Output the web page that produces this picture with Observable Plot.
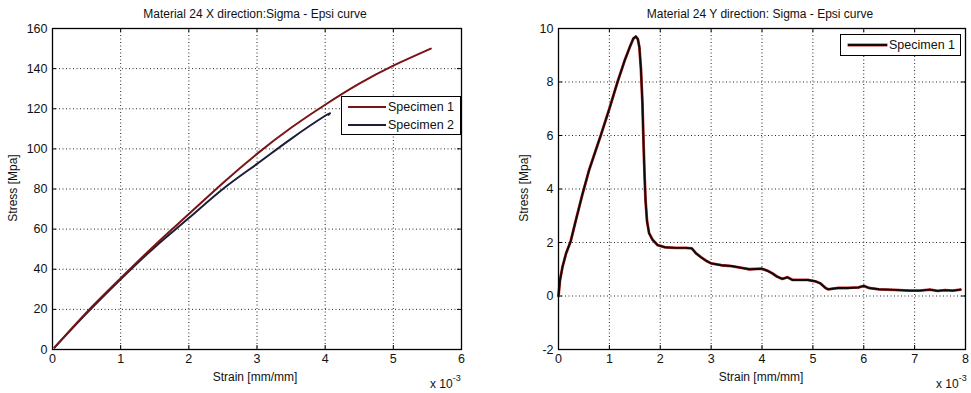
<!DOCTYPE html>
<html><head><meta charset="utf-8">
<script src="https://cdn.jsdelivr.net/npm/d3@7"></script>
<script src="https://cdn.jsdelivr.net/npm/@observablehq/plot@0.6"></script>
<style>
body{margin:0;background:#fff;}
#wrap{position:relative;width:971px;height:393px;overflow:hidden;font-family:"Liberation Sans",Arial,sans-serif;color:#111;background:#fff;}
.panel{position:absolute;top:0;}
.t{position:absolute;white-space:nowrap;font-size:12px;transform:translate(-50%,-50%);line-height:1;}
.yl{position:absolute;white-space:nowrap;font-size:12px;transform:translate(-50%,-50%) rotate(-90deg);line-height:1;}
.mult{position:absolute;white-space:nowrap;font-size:12px;line-height:1;}
.mult sup{font-size:9px;position:relative;top:-2px;}
.legend{position:absolute;background:#fff;border:1.5px solid #000;box-sizing:border-box;}
.legend .row{position:absolute;left:0;right:0;height:16px;}
.legend .sw{position:absolute;height:2px;}
.legend .lab{position:absolute;font-size:12.5px;line-height:16px;top:0;white-space:nowrap;}
</style>
</head><body>
<div id="wrap"></div>
<script>
// ---- Data (strain in units of 10^-3 mm/mm, stress in MPa) ----
const xStrain1 = [0.03, 0.5, 1.0, 1.5, 2.0, 2.5, 3.0, 3.5, 4.0, 4.5, 5.0, 5.55];
const xStress1 = [1.0, 18.5, 35.5, 52, 67.5, 83, 97.5, 110.5, 122, 132.5, 141.5, 150];
const xStrain2 = [0.03, 0.5, 1.0, 1.5, 2.0, 2.5, 3.0, 3.5, 4.0, 4.05];
const xStress2 = [1.0, 18, 35, 51, 65.5, 80, 92.5, 105, 116.5, 117];

const yStrain = [0, 0.03, 0.08, 0.15, 0.24, 0.35, 0.47, 0.6, 0.83, 1.0, 1.16, 1.3, 1.4, 1.47, 1.52, 1.56, 1.59, 1.62, 1.65, 1.67, 1.69, 1.71, 1.74, 1.78, 1.85, 1.95, 2.1, 2.3, 2.5, 2.62, 2.7, 2.8, 2.9, 3.0, 3.2, 3.4, 3.6, 3.75, 4.0, 4.1, 4.2, 4.3, 4.4, 4.5, 4.6, 4.75, 4.9, 5.05, 5.15, 5.25, 5.3, 5.5, 5.7, 5.9, 6.0, 6.1, 6.3, 6.6, 6.9, 7.1, 7.3, 7.45, 7.6, 7.75, 7.9];
const yStress = [0, 0.6, 1.1, 1.6, 2.05, 2.9, 3.8, 4.7, 6.0, 7.0, 8.0, 8.8, 9.3, 9.62, 9.7, 9.6, 9.3, 8.5, 7.2, 5.8, 4.6, 3.6, 2.8, 2.35, 2.1, 1.9, 1.82, 1.8, 1.8, 1.78, 1.6, 1.45, 1.32, 1.22, 1.15, 1.12, 1.05, 1.0, 1.02, 0.95, 0.85, 0.72, 0.64, 0.7, 0.6, 0.6, 0.6, 0.55, 0.47, 0.3, 0.25, 0.3, 0.3, 0.32, 0.38, 0.3, 0.25, 0.23, 0.2, 0.2, 0.24, 0.19, 0.22, 0.2, 0.24];

const leftXTicks = [0, 1, 2, 3, 4, 5, 6];
const leftYTicks = [0, 20, 40, 60, 80, 100, 120, 140, 160];
const rightXTicks = [0, 1, 2, 3, 4, 5, 6, 7, 8];
const rightYTicks = [-2, 0, 2, 4, 6, 8, 10];

const titles = ["Material 24 X direction:Sigma - Epsi curve", "Material 24 Y direction: Sigma - Epsi curve"];
const xLabel = "Strain [mm/mm]";
const yLabel = "Stress [Mpa]";
const leftSeries = ["Specimen 1", "Specimen 2"];
const rightSeries = ["Specimen 1"];

const colSpec1 = "#7a1414", colSpec2 = "#1b1d3a";

const toRows = (xs, ys, name) => xs.map((x, i) => ({x, y: ys[i], name}));

function panel({width, ml, mr, xTicks, yTicks, marks}) {
  const mt = 28, mb = 44, H = 393;
  const ph = H - mt - mb, pw = width - ml - mr;
  const xd = [xTicks[0], xTicks[xTicks.length - 1]];
  const yd = [yTicks[0], yTicks[yTicks.length - 1]];
  const innerX = xTicks.slice(1, -1), innerY = yTicks.slice(1, -1);
  const grid = {stroke: "#000", strokeOpacity: 0.85, strokeWidth: 1, strokeDasharray: "1,2.5"};
  const tk = {stroke: "#000", strokeWidth: 1};
  return Plot.plot({
    width, height: H, marginLeft: ml, marginRight: mr, marginTop: mt, marginBottom: mb,
    x: {domain: xd}, y: {domain: yd},
    style: {fontFamily: "'Liberation Sans', Arial, sans-serif", fontSize: "12.5px", color: "#111", background: "transparent", overflow: "visible"},
    marks: [
      Plot.ruleX(innerX, {x: d => d, ...grid}),
      Plot.ruleY(innerY, {y: d => d, ...grid}),
      Plot.ruleX(innerX, {x: d => d, insetTop: ph - 4, ...tk}),
      Plot.ruleX(innerX, {x: d => d, insetBottom: ph - 4, ...tk}),
      Plot.ruleY(innerY, {y: d => d, insetRight: pw - 4, ...tk}),
      Plot.ruleY(innerY, {y: d => d, insetLeft: pw - 4, ...tk}),
      ...marks,
      Plot.frame({stroke: "#000", strokeWidth: 1.3}),
      Plot.axisX(xTicks, {anchor: "bottom", tickSize: 0, tickPadding: 5, label: null, tickFormat: d => String(d)}),
      Plot.axisY(yTicks, {anchor: "left", tickSize: 0, tickPadding: 5, label: null, tickFormat: d => String(d)})
    ]
  });
}

const wrap = document.getElementById("wrap");

const left = panel({
  width: 480, ml: 52, mr: 19, xTicks: leftXTicks, yTicks: leftYTicks,
  marks: [
    Plot.line(toRows(xStrain2, xStress2, leftSeries[1]), {x: "x", y: "y", stroke: colSpec2, strokeWidth: 2, curve: "natural"}),
    Plot.line(toRows(xStrain1, xStress1, leftSeries[0]), {x: "x", y: "y", stroke: colSpec1, strokeWidth: 2, curve: "natural"})
  ]
});
const right = panel({
  width: 481, ml: 68, mr: 6, xTicks: rightXTicks, yTicks: rightYTicks,
  marks: [
    Plot.line(toRows(yStrain, yStress, rightSeries[0]), {x: "x", y: "y", stroke: "#c8282a", strokeWidth: 2.8, curve: "linear"}),
    Plot.line(toRows(yStrain, yStress, rightSeries[0]), {x: "x", y: "y", stroke: "#0c0c0c", strokeWidth: 1.9, curve: "linear"})
  ]
});

const pl = document.createElement("div"); pl.className = "panel"; pl.style.left = "0px"; pl.appendChild(left); wrap.appendChild(pl);
const pr = document.createElement("div"); pr.className = "panel"; pr.style.left = "490px"; pr.appendChild(right); wrap.appendChild(pr);

function addText(cls, txt, x, y, html) {
  const d = document.createElement("div"); d.className = cls;
  if (html) d.innerHTML = txt; else d.textContent = txt;
  d.style.left = x + "px"; d.style.top = y + "px"; wrap.appendChild(d); return d;
}
addText("t", titles[0], 255, 14);
addText("t", titles[1], 760, 14);
addText("t", xLabel, 255, 377);
addText("t", xLabel, 761, 377);
addText("yl", yLabel, 13, 188);
addText("yl", yLabel, 524, 188);
addText("mult", "x 10<sup>-3</sup>", 430, 376, true);
addText("mult", "x 10<sup>-3</sup>", 936, 376, true);

function legend(x, y, w, h, items) {
  const L = document.createElement("div"); L.className = "legend";
  L.style.left = x + "px"; L.style.top = y + "px"; L.style.width = w + "px"; L.style.height = h + "px";
  items.forEach((it, i) => {
    const r = document.createElement("div"); r.className = "row"; r.style.top = (2 + i * 18) + "px";
    const s = document.createElement("div"); s.className = "sw";
    s.style.left = it.sx + "px"; s.style.width = it.sw + "px"; s.style.top = "7px"; s.style.background = it.color;
    if (it.outline) s.style.boxShadow = "0 0 0 0.5px " + it.outline;
    const t = document.createElement("div"); t.className = "lab"; t.style.left = it.tx + "px"; t.textContent = it.name;
    r.appendChild(s); r.appendChild(t); L.appendChild(r);
  });
  wrap.appendChild(L);
}
legend(341, 96, 120, 39, [
  {name: leftSeries[0], color: colSpec1, sx: 6, sw: 38, tx: 46},
  {name: leftSeries[1], color: colSpec2, sx: 6, sw: 38, tx: 46}
]);
legend(840, 34, 121, 22, [
  {name: rightSeries[0], color: "#0c0c0c", outline: "#c8282a", sx: 7, sw: 39, tx: 48}
]);
</script>
</body></html>
